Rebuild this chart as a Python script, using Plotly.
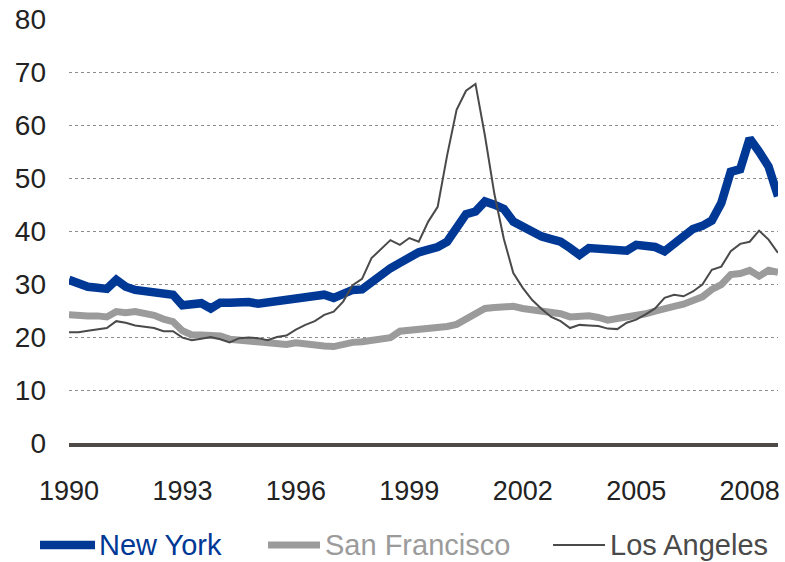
import plotly.graph_objects as go

# Trimestres 1990Q1 .. 2008Q4
quarters = [f"{y}Q{q}" for y in range(1990, 2009) for q in range(1, 5)]

new_york = [
    30.8, 30.0, 29.5, 29.3, 29.1, 30.8, 29.5, 28.9, 28.7, 28.6, 28.3, 28.0,
    26.0, 26.2, 26.4, 25.4, 26.5, 26.5, 26.7, 26.6, 26.3, 26.5, 27.0, 27.2,
    27.3, 27.5, 27.7, 28.0, 27.4, 28.2, 28.9, 29.0, 30.5, 31.8, 33.0, 34.0,
    35.0, 36.0, 36.5, 37.0, 38.0, 40.5, 43.2, 43.7, 45.6, 45.0, 44.2, 41.8,
    40.8, 39.6, 39.0, 38.5, 38.0, 36.8, 35.5, 36.8, 36.6, 36.4, 36.2, 36.3,
    37.4, 37.4, 37.0, 36.2, 37.6, 39.0, 40.4, 41.0, 42.0, 45.3, 51.2, 51.7,
    57.5, 55.0, 52.2, 46.6,
]
san_francisco = [
    24.2, 24.0, 24.0, 24.0, 23.8, 24.8, 24.6, 24.8, 24.6, 24.1, 23.4, 22.9,
    21.2, 20.4, 20.4, 20.3, 20.2, 19.6, 19.4, 19.3, 19.2, 19.0, 18.5, 18.6,
    18.9, 18.6, 18.5, 18.3, 18.2, 18.7, 19.0, 19.1, 19.4, 19.6, 19.9, 21.1,
    21.3, 21.4, 21.4, 21.8, 22.0, 22.4, 23.5, 24.5, 25.4, 25.6, 25.7, 25.8,
    25.4, 25.2, 25.0, 24.6, 24.4, 23.8, 23.9, 24.0, 23.7, 23.2, 23.5, 23.8,
    23.9, 24.4, 24.9, 25.2, 25.8, 26.2, 26.8, 27.6, 29.0, 29.9, 31.8, 32.0,
    32.6, 31.5, 32.6, 32.2,
]
los_angeles = [
    20.9, 20.9, 21.2, 21.5, 21.7, 23.0, 22.7, 22.2, 22.0, 21.7, 21.1, 21.1,
    19.9, 19.4, 19.7, 20.0, 19.6, 19.0, 19.8, 19.9, 19.8, 19.4, 20.0, 20.3,
    21.4, 22.3, 23.0, 24.2, 24.8, 26.7, 29.8, 31.0, 34.9, 36.6, 38.3, 37.4,
    38.7, 38.0, 41.8, 44.6, 54.3, 62.9, 66.5, 67.8, 58.0, 47.0, 38.5, 32.1,
    29.3, 27.0, 25.3, 23.8, 23.0, 21.7, 22.3, 22.2, 22.1, 21.6, 21.5, 22.7,
    23.3, 24.3, 25.4, 27.4, 28.0, 27.7, 28.6, 29.9, 32.7, 33.3, 36.2, 37.6,
    38.0, 40.1, 38.4, 35.9,
]

tick_years = ["1990", "1993", "1996", "1999", "2002", "2005", "2008"]
y_ticks = [0, 10, 20, 30, 40, 50, 60, 70, 80]

blue = "#003896"
gray = "#9b9b9b"
dark = "#4a4a4a"

series = [
    ("New York", new_york, blue, 8.5),
    ("San Francisco", san_francisco, gray, 7),
    ("Los Angeles", los_angeles, dark, 2),
]

fig = go.Figure()
for name, vals, col, w in series:
    fig.add_trace(go.Scatter(x=quarters, y=vals, mode="lines", name=name,
                             line=dict(color=col, width=w)))

# Leyenda dibujada a mano (línea + texto del mismo color)
leg_y = -0.2406
leg_pos = [(-0.0409, 0.0367, 0.0395), (0.2807, 0.3540, 0.3582), (0.6827, 0.7560, 0.7602)]
shapes = []
annotations = []
for (name, vals, col, w), (x0, x1, xt) in zip(series, leg_pos):
    shapes.append(dict(type="line", xref="paper", yref="paper", x0=x0, x1=x1,
                       y0=leg_y, y1=leg_y, line=dict(color=col, width=w)))
    annotations.append(dict(text=name, xref="paper", yref="paper", x=xt, y=leg_y,
                            xanchor="left", yanchor="middle", showarrow=False,
                            font=dict(size=29, color=col)))

fig.update_layout(
    width=785, height=562,
    margin=dict(l=69, r=7, t=19, b=119, autoexpand=False),
    paper_bgcolor="white", plot_bgcolor="white",
    font=dict(family="Liberation Sans, Arial, sans-serif", size=28, color="#222222"),
    showlegend=False,
    shapes=shapes,
    annotations=annotations,
    xaxis=dict(
        type="category", range=[0, len(quarters) - 1], autorange=False,
        tickmode="array", tickvals=[f"{y}Q1" for y in tick_years], ticktext=tick_years,
        tickfont=dict(size=27),
        showgrid=False, ticks="", showline=True, linecolor="#4d4a48", linewidth=4,
        ticklabelstandoff=21, zeroline=False, automargin=False,
    ),
    yaxis=dict(
        range=[0, 80.05], autorange=False, tickvals=y_ticks,
        showgrid=True, gridcolor="#8c8c8c", griddash="dot", gridwidth=1,
        zeroline=False, ticks="", ticklabelstandoff=22, showline=False,
        automargin=False,
    ),
)

# quitar el margen por defecto del <body> para que la figura empiece en (0,0)
fig.write_html("out.html", config={"displayModeBar": False},
               post_script="document.body.style.margin='0';")
